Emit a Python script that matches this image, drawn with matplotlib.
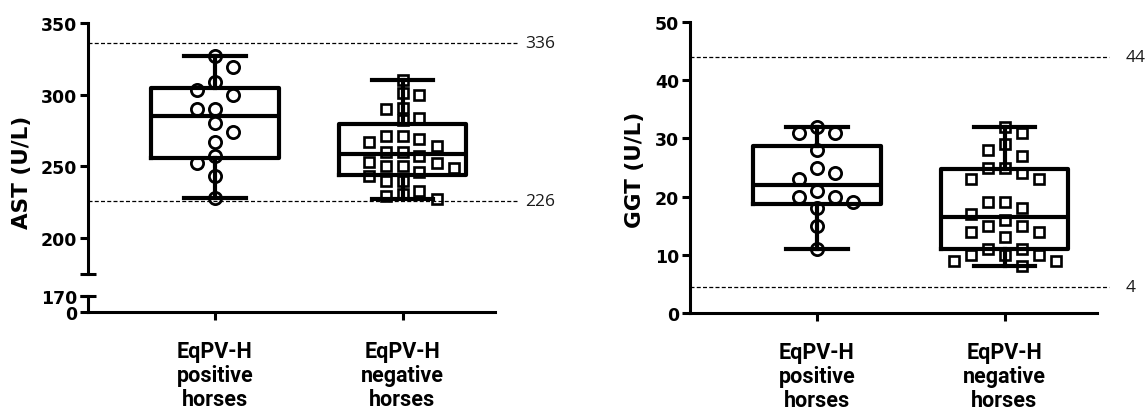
import numpy as np
import matplotlib
matplotlib.use("Agg")
import matplotlib.pyplot as plt
from matplotlib.transforms import blended_transform_factory

# ---------------- data ----------------
groups = ["EqPV-H\npositive\nhorses", "EqPV-H\nnegative\nhorses"]

ast_positive = [228, 243, 252, 257, 267, 274, 280, 290, 290, 300, 303, 309, 319, 327]
ast_negative = [227, 229, 231, 233, 240, 240, 243, 246, 249, 250, 250, 252, 253, 257,
                260, 260, 264, 267, 269, 271, 271, 282, 284, 290, 291, 300, 301, 310]
ggt_positive = [11, 15, 18, 19, 20, 20, 21, 23, 24, 25, 28, 31, 31, 32]
ggt_negative = [8, 9, 9, 10, 10, 10, 11, 11, 13, 14, 14, 15, 15, 16,
                17, 18, 19, 19, 23, 23, 24, 25, 25, 27, 28, 29, 31, 32]

ast_ref_values = [336, 226]
ast_ref_labels = ["336", "226"]
ggt_ref_values = [44, 4.5]
ggt_ref_labels = ["44", "4"]

ast_upper_ticks = [200, 250, 300, 350]
ast_lower_ticks = [0, 170]
ggt_ticks = [0, 10, 20, 30, 40, 50]

# ---------------- style ----------------
W, H = 1146, 410
LW = 3.0
SPINE_LW = 2.2
TICK_FONT = dict(family="DejaVu Sans", weight="bold", size=12.5)
XLAB_FONT = dict(family="Roboto", weight="bold", size=15.5)
REF_FONT = dict(family="Open Sans", size=12.5)

fig = plt.figure(figsize=(W / 100, H / 100), dpi=100, facecolor="white")


def px_axes(left, top, right, bottom):
    return fig.add_axes([left / W, 1 - bottom / H, (right - left) / W, (bottom - top) / H])


positions = np.arange(1, len(groups) + 1)
unit_px = 187.5
xlo = 1 - 127 / unit_px
xhi = 1 + (407 - 127) / unit_px


def box_stats(vals):
    v = np.asarray(vals, float)
    q1, med, q3 = np.percentile(v, [25, 50, 75], method="weibull")
    return dict(med=med, q1=q1, q3=q3, whislo=v.min(), whishi=v.max(), fliers=[])


def swarm(ax, xc, vals, dx_min, dy_min):
    """Greedy scatter layout: a point may not lie within a dx_min x dy_min
    rectangle of an already placed point; offsets on a half-symbol grid."""
    vals = np.asarray(vals, float)
    ys = ax.transData.transform(np.column_stack([np.full(len(vals), xc), vals]))[:, 1]
    order = np.argsort(-vals)
    step = dx_min / 2.0
    placed = []
    offs = np.zeros(len(vals))
    flip = 1
    for i in order:
        cands = [0.0]
        for k in range(1, 30):
            cands += [flip * k * step, -flip * k * step]
        for c in cands:
            if all(abs(c - px) >= dx_min - 1e-6 or abs(ys[i] - py) >= dy_min for px, py in placed):
                offs[i] = c
                break
        if offs[i] != 0:
            flip = -np.sign(offs[i])
        placed.append((offs[i], ys[i]))
    u = ax.transData.transform([[1, 0]])[0, 0] - ax.transData.transform([[0, 0]])[0, 0]
    return xc + offs / u


def draw_boxes(ax, datasets, markers, msize, mew, dxs, dys):
    stats = [box_stats(d) for d in datasets]
    ax.bxp(stats, positions=positions, widths=0.68, capwidths=0.33, showfliers=False,
           boxprops=dict(color="black", linewidth=LW),
           whiskerprops=dict(color="black", linewidth=LW),
           capprops=dict(color="black", linewidth=LW),
           medianprops=dict(color="black", linewidth=LW), manage_ticks=False)
    for p, d, m, ms, mw, dx, dy in zip(positions, datasets, markers, msize, mew, dxs, dys):
        xs = swarm(ax, p, d, dx, dy)
        ax.plot(xs, d, linestyle="none", marker=m, markersize=ms, markerfacecolor="none",
                markeredgecolor="black", markeredgewidth=mw, zorder=4, clip_on=False)


def ref_lines(ax, values, labels, x_end, x_text):
    for v, lab in zip(values, labels):
        ax.plot([xlo, x_end], [v, v], color="black", linewidth=0.9,
                linestyle=(0, (3.2, 1.8)), clip_on=False, zorder=1)
        ax.text(x_text, v, lab, ha="left", va="center", color="#1a1a1a",
                clip_on=False, **REF_FONT)


def style_y(ax):
    for s in ("top", "right"):
        ax.spines[s].set_visible(False)
    ax.spines["left"].set_linewidth(SPINE_LW)
    ax.spines["bottom"].set_linewidth(SPINE_LW)
    ax.tick_params(axis="y", length=6, width=SPINE_LW, pad=2, direction="out")
    for lab in ax.get_yticklabels():
        lab.set(**TICK_FONT)


def style_x(ax):
    ax.set_xticks(positions)
    ax.set_xticklabels(groups, linespacing=1.12, ha="center", **XLAB_FONT)
    ax.tick_params(axis="x", length=6, width=SPINE_LW, pad=14, direction="out")


# ---------------- AST (broken axis) ----------------
ax_up = px_axes(88, 24, 495, 274.8)
ax_up.set_xlim(xlo, xhi)
ax_up.set_ylim(175, 350)
ax_up.set_yticks(ast_upper_ticks)
ax_up.set_yticklabels([str(t) for t in ast_upper_ticks])
style_y(ax_up)
ax_up.spines["bottom"].set_visible(False)
ax_up.set_xticks([])
ax_up.patch.set_alpha(0)

ax_lo = px_axes(88, 297, 495, 313)
ax_lo.set_xlim(xlo, xhi)
ax_lo.set_ylim(0, 170)
ax_lo.set_yticks(ast_lower_ticks)
ax_lo.set_yticklabels([str(t) for t in ast_lower_ticks])
style_y(ax_lo)
style_x(ax_lo)
ax_lo.patch.set_alpha(0)

# break caps on the y axis
bt = blended_transform_factory(ax_up.transAxes, ax_up.transData)
ax_up.plot([0], [175], marker="_", markersize=11, markeredgewidth=SPINE_LW,
           color="black", transform=bt, clip_on=False)
bt2 = blended_transform_factory(ax_lo.transAxes, ax_lo.transData)
ax_lo.plot([0], [170], marker="_", markersize=11, markeredgewidth=SPINE_LW,
           color="black", transform=bt2, clip_on=False)

ref_lines(ax_up, ast_ref_values, ast_ref_labels, 2.61, 2.655)
draw_boxes(ax_up, [ast_positive, ast_negative], ["o", "s"], [8.8, 7.8], [2.0, 1.9],
           [18, 17], [13, 12])

fig.text(22 / W, 1 - 172 / H, "AST (U/L)", rotation=90, ha="center", va="center",
         family="DejaVu Sans", weight="bold", size=15.5)

# ---------------- GGT ----------------
ax_g = px_axes(690, 23, 1097, 314)
ax_g.set_xlim(xlo, xhi)
ax_g.set_ylim(0, 50)
ax_g.set_yticks(ggt_ticks)
ax_g.set_yticklabels([str(t) for t in ggt_ticks])
style_y(ax_g)
style_x(ax_g)
ax_g.patch.set_alpha(0)

ref_lines(ax_g, ggt_ref_values, ggt_ref_labels, 2.555, 2.645)
draw_boxes(ax_g, [ggt_positive, ggt_negative], ["o", "s"], [8.8, 7.8], [2.0, 1.9],
           [18, 17], [13, 12])

fig.text(635 / W, 1 - 170 / H, "GGT (U/L)", rotation=90, ha="center", va="center",
         family="DejaVu Sans", weight="bold", size=15.5)

fig.savefig("out.png", dpi=100, facecolor="white")
